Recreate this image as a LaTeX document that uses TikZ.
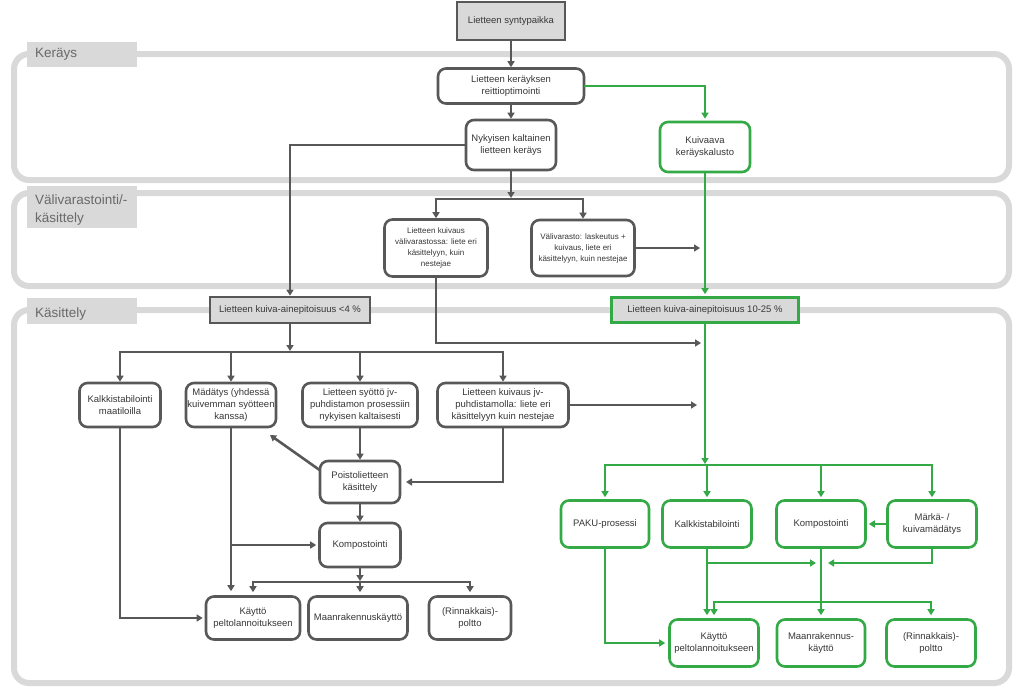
\documentclass[tikz,border=0pt]{standalone}
\usepackage{fontspec}
\setmainfont{Liberation Sans}
\usetikzlibrary{arrows.meta,calc}
\definecolor{bandgray}{RGB}{217,217,217}
\definecolor{gline}{RGB}{88,88,88}
\definecolor{grn}{RGB}{52,170,70}
\definecolor{txt}{RGB}{55,55,55}
\definecolor{tabtxt}{RGB}{105,105,105}
\begin{document}
\begin{tikzpicture}[x=1pt,y=-1pt,
  band/.style={draw=bandgray,line width=6pt,rounded corners=15pt},
  tab/.style={fill=bandgray,draw=none},
  tabtext/.style={text=tabtxt,font=\fontsize{13.5}{18}\selectfont,align=left,inner sep=0},
  gbox/.style={draw=gline,line width=2.6pt,rounded corners=8pt,fill=white,text=txt,align=center,inner sep=0,font=\fontsize{9.5}{12.5}\selectfont},
  grbox/.style={gbox,draw=grn},
  sbox/.style={draw=gline,line width=2.6pt,fill=bandgray,text=txt,align=center,inner sep=0,font=\fontsize{9.5}{12}\selectfont},
  smalltext/.style={font=\fontsize{8}{11}\selectfont},
  garr/.style={draw=gline,line width=2.6pt,line cap=rect,-{Triangle[length=6pt,width=7pt]}},
  grarr/.style={draw=grn,line width=2.6pt,line cap=rect,-{Triangle[length=6pt,width=7pt]}},
]
\useasboundingbox[fill=white] (0,0) rectangle (1024,694);
% bands
\draw[band] (14,54) rectangle (1009,180);
\draw[band] (14,193) rectangle (1009,286);
\draw[band] (14,310) rectangle (1009,683);
\fill[tab] (27,42) rectangle (137,67);
\fill[tab] (27,186) rectangle (137,228);
\fill[tab] (27,298) rectangle (137,324);
\node[tabtext,anchor=base west] (tk) at (35,57) {Keräys};
\node[tabtext,anchor=north west] (tv) at (35,195) {Välivarastointi/-\\käsittely};
\node[tabtext,anchor=base west] (tc) at (35,317) {Käsittely};
% nodes
\node[sbox,minimum width=108pt,minimum height=38pt] (syn) at (511,21) {Lietteen syntypaikka};
\node[gbox,minimum width=146pt,minimum height=35pt] (reitti) at (511,86) {Lietteen keräyksen\\reittioptimointi};
\node[gbox,minimum width=90pt,minimum height=50pt] (nyky) at (511,145) {Nykyisen kaltainen\\lietteen keräys};
\node[grbox,minimum width=90pt,minimum height=50pt] (kuivaava) at (705,147) {Kuivaava\\keräyskalusto};
\node[gbox,smalltext,minimum width=103pt,minimum height=57pt] (valiA) at (436,248) {Lietteen kuivaus\\välivarastossa: liete eri\\käsittelyyn, kuin\\nestejae};
\node[gbox,smalltext,minimum width=103pt,minimum height=56pt] (valiB) at (583,248) {Välivarasto: laskeutus +\\kuivaus, liete eri\\käsittelyyn, kuin nestejae};
\node[sbox,minimum width=160pt,minimum height=26pt] (ka4) at (290,310) {Lietteen kuiva-ainepitoisuus <4 \%};
\node[sbox,draw=grn,minimum width=187pt,minimum height=25pt] (ka10) at (705,310) {Lietteen kuiva-ainepitoisuus 10-25 \%};
\node[gbox,minimum width=81pt,minimum height=44pt] (kalkM) at (120,405) {Kalkkistabilointi\\maatiloilla};
\node[gbox,minimum width=90pt,minimum height=44pt,font=\fontsize{9.5}{12}\selectfont] (mada) at (231,405) {Mädätys (yhdessä\\kuivemman syötteen\\kanssa)};
\node[gbox,minimum width=115pt,minimum height=44pt,font=\fontsize{9.5}{12}\selectfont] (syotto) at (360,405) {Lietteen syöttö jv-\\puhdistamon prosessiin\\nykyisen kaltaisesti};
\node[gbox,minimum width=131pt,minimum height=44pt,font=\fontsize{9.5}{12}\selectfont] (kuivjv) at (503,405) {Lietteen kuivaus jv-\\puhdistamolla: liete eri\\käsittelyyn kuin nestejae};
\node[gbox,minimum width=80pt,minimum height=42pt] (poisto) at (360,482) {Poistolietteen\\käsittely};
\node[gbox,minimum width=81pt,minimum height=44pt] (kompL) at (360,545) {Kompostointi};
\node[gbox,minimum width=94pt,minimum height=43pt] (kayttoL) at (253,618) {Käyttö\\peltolannoitukseen};
\node[gbox,minimum width=99pt,minimum height=43pt] (maanL) at (358,618) {Maanrakennuskäyttö};
\node[gbox,minimum width=82pt,minimum height=43pt] (rinnL) at (470,618) {(Rinnakkais)-\\poltto};
\node[grbox,minimum width=88pt,minimum height=47pt] (paku) at (605,524) {PAKU-prosessi};
\node[grbox,minimum width=89pt,minimum height=47pt] (kalkR) at (707,524) {Kalkkistabilointi};
\node[grbox,minimum width=89pt,minimum height=47pt] (kompR) at (821,524) {Kompostointi};
\node[grbox,minimum width=89pt,minimum height=47pt] (mark) at (932,524) {Märkä- /\\kuivamädätys};
\node[grbox,minimum width=89pt,minimum height=47pt] (kayttoR) at (714,643) {Käyttö\\peltolannoitukseen};
\node[grbox,minimum width=88pt,minimum height=47pt] (maanR) at (821,643) {Maanrakennus-\\käyttö};
\node[grbox,minimum width=89pt,minimum height=47pt] (rinnR) at (931,643) {(Rinnakkais)-\\poltto};
% free ends
\coordinate (j1) at (511,199);
\coordinate (j2) at (290,352);
\coordinate (j3) at (360,582);
\coordinate (j4) at (705,465);
\coordinate (j5a) at (816,563);
\coordinate (j5b) at (828,563);
\coordinate (j6) at (821,602);
\coordinate (e1) at (701,343);
\coordinate (e2) at (700,248);
\coordinate (e3) at (697,405);
\coordinate (e4) at (270,435);
\coordinate (e5) at (406,482);
% gray connectors
\draw[garr] (syn.south) -- (reitti.north);
\draw[garr] (reitti.south) -- (nyky.north);
\draw[garr] (nyky.south) -- ($(j1)+(0,-1)$);
\draw[garr] (valiB.north |- j1) -| (valiA.north);
\draw[garr] (valiB.north |- j1) -- (valiB.north);
\draw[garr] (nyky.west) -| (ka4.north);
\draw[garr] (valiA.south) |- (e1);
\draw[garr] (valiB.east) -- (e2);
\draw[garr] (ka4.south) -- ($(j2)+(0,-1)$);
\draw[garr] (kuivjv.north |- j2) -| (kalkM.north);
\draw[garr] (mada.north |- j2) -- (mada.north);
\draw[garr] (syotto.north |- j2) -- (syotto.north);
\draw[garr] (kuivjv.north |- j2) -- (kuivjv.north);
\draw[garr] (kuivjv.east) -- (e3);
\draw[garr] (syotto.south) -- (poisto.north);
\draw[garr] (poisto.163) -- (e4);
\draw[garr] (kuivjv.south) |- (e5);
\draw[garr] (poisto.south) -- (kompL.north);
\draw[garr,shorten >=4pt] (mada.south) -- (mada.south |- kayttoL.north);
\draw[garr,shorten >=2pt] (mada.south |- kompL.west) -- (kompL.west);
\draw[garr,shorten >=2pt] (kalkM.south) |- (kayttoL.west);
\draw[garr] (kompL.south) -- ($(j3)+(0,-1)$);
\draw[garr,shorten >=3pt] (rinnL.north |- j3) -| (kayttoL.north);
\draw[garr,shorten >=3pt] (j3) -- (j3 |- maanL.north);
\draw[garr,shorten >=3pt] (rinnL.north |- j3) -- (rinnL.north);
% green connectors
\draw[grarr,shorten >=2pt] (reitti.east) -| (kuivaava.north);
\draw[grarr,shorten >=2pt] (kuivaava.south) -- (ka10.north);
\draw[grarr] (ka10.south) -- ($(j4)+(0,-1)$);
\draw[grarr,shorten >=2pt] (mark.north |- j4) -| (paku.north);
\draw[grarr,shorten >=2pt] (kalkR.north |- j4) -- (kalkR.north);
\draw[grarr,shorten >=2pt] (kompR.north |- j4) -- (kompR.north);
\draw[grarr,shorten >=2pt] (mark.north |- j4) -- (mark.north);
\draw[grarr,shorten >=2pt] (mark.west) -- (kompR.east);
\draw[grarr,shorten >=3pt] (kalkR.south) -- (kalkR.south |- kayttoR.north);
\draw[grarr] (kalkR.south |- j5a) -- (j5a);
\draw[grarr] (mark.south) |- (j5b);
\draw[grarr,shorten >=3pt] (kompR.south) -- (kompR.south |- maanR.north);
\draw[grarr,shorten >=3pt] (rinnR.north |- j6) -| (kayttoR.north);
\draw[grarr,shorten >=3pt] (rinnR.north |- j6) -- (rinnR.north);
\draw[grarr,shorten >=3pt] (paku.south) |- (kayttoR.west);
\end{tikzpicture}
\end{document}
